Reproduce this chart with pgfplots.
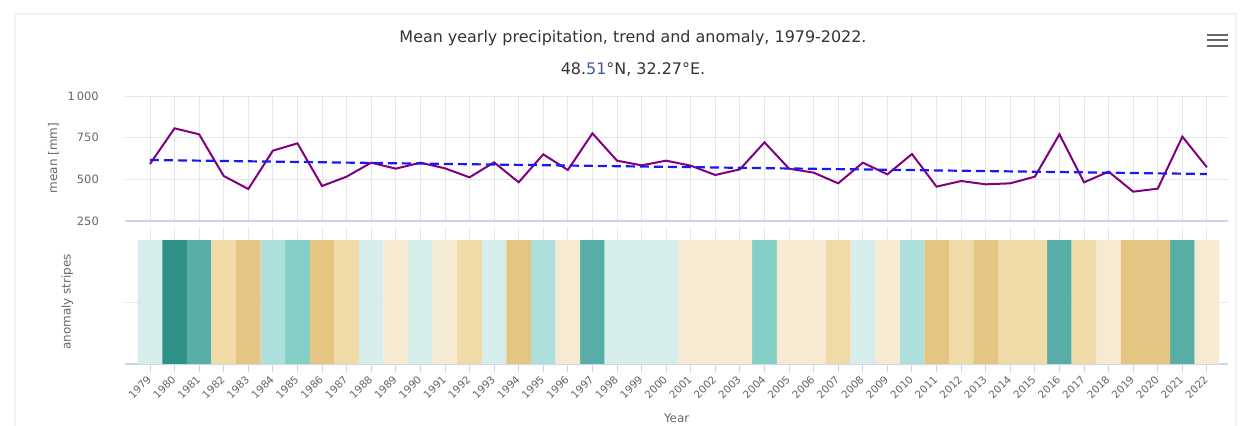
\documentclass[border=0pt]{standalone}
\usepackage{fontspec}
\setmainfont{DejaVu Sans}
\usepackage{pgfplots}
\usepackage{pgfplotstable}
\pgfplotsset{compat=1.18}
\definecolor{dteal}{HTML}{2E9187}
\definecolor{teal2}{HTML}{58AEA6}
\definecolor{lteal}{HTML}{84D0C6}
\definecolor{pteal}{HTML}{ADE0DC}
\definecolor{vpteal}{HTML}{D5EEEC}
\definecolor{pbeige}{HTML}{F6EAD3}
\definecolor{ltan}{HTML}{F0DBA8}
\definecolor{tan2}{HTML}{E4C582}
\definecolor{gridc}{HTML}{E6E6E6}
\definecolor{axisc}{HTML}{CCD6EB}
\definecolor{labc}{HTML}{666666}
\definecolor{titc}{HTML}{333333}
\definecolor{subblue}{HTML}{3D5A9C}
\definecolor{trendblue}{HTML}{1A1AF0}
\definecolor{linepurple}{HTML}{800080}

\pgfplotstableread{
year mean
1979 592
1980 806
1981 770
1982 520
1983 442
1984 672
1985 716
1986 460
1987 516
1988 600
1989 564
1990 600
1991 566
1992 512
1993 602
1994 482
1995 650
1996 556
1997 776
1998 612
1999 584
2000 612
2001 582
2002 526
2003 560
2004 722
2005 564
2006 540
2007 476
2008 600
2009 530
2010 652
2011 456
2012 490
2013 470
2014 476
2015 516
2016 770
2017 482
2018 546
2019 426
2020 444
2021 756
2022 572
}\precip

\begin{document}
\begin{tikzpicture}
\begin{scope}[x=1bp,y=1bp]
\path[use as bounding box] (0,0) rectangle (1242,421);
\draw[black!5, line width=2bp] (15,-5) -- (15,407) -- (1236,407) -- (1236,-5);
\node[font=\fontsize{16}{18}\selectfont, text=titc] at (633,383) {Mean yearly precipitation, trend and anomaly, 1979-2022.};
\node[font=\fontsize{16}{18}\selectfont, text=titc] at (633,351) {48.\textcolor{subblue}{51}°N, 32.27°E.};
\foreach \yy in {375,380.5,386} \draw[labc, line width=2bp] (1207,\yy) -- (1228,\yy);
\end{scope}

\begin{axis}[
  at={(125.4bp,200bp)}, anchor=south west,
  width=1102.5bp, height=125bp, scale only axis,
  xmin=1978, xmax=2022.854,
  ymin=250, ymax=1000,
  xtick={1979,...,2022}, xticklabels=\empty,
  ytick={250,500,750,1000}, yticklabels={250,500,750,1\,000},
  major tick length=0pt,
  xmajorgrids, ymajorgrids,
  grid style={draw=gridc, line width=0.8bp},
  axis x line*=bottom, axis y line*=left,
  x axis line style={draw=axisc, line width=1.2bp, -},
  y axis line style={draw=none},
  /pgf/number format/assume math mode=true,
  yticklabel style={font=\fontsize{11.5}{12}\selectfont, text=labc, anchor=east, inner sep=0pt, xshift=-26.4bp},
  ylabel={mean [mm]},
  every axis y label/.style={at={(rel axis cs:0,0.504)}, xshift=-72bp, rotate=90, anchor=center, font=\fontsize{12}{13}\selectfont, text=labc},
  clip=false,
]
\addplot[linepurple, line width=2bp, no marks] table[x=year, y=mean] {\precip};
\addplot[trendblue, line width=2.2bp, dash pattern=on 9bp off 5bp, no marks] coordinates {(1979,616) (2022,532)};
\end{axis}

\begin{axis}[
  at={(125.4bp,57bp)}, anchor=south west,
  width=1102.5bp, height=136bp, scale only axis,
  xmin=1978, xmax=2022.854,
  ymin=0, ymax=1.097,
  xtick={1979,...,2022},
  ytick={0.5}, yticklabels={},
  xmajorgrids, ymajorgrids,
  grid style={draw=gridc, line width=0.8bp},
  axis x line*=bottom, axis y line*=left,
  x axis line style={draw=axisc, line width=1.2bp, -},
  y axis line style={draw=none},
  xtick style={draw=axisc, line width=0.8bp},
  ytick style={draw=none},
  tick align=outside,
  major tick length=8bp,
  /pgf/number format/assume math mode=true,
  /pgf/number format/1000 sep={},
  xticklabel style={font=\fontsize{10.5}{12}\selectfont, text=labc, yshift=-5bp, rotate=45, anchor=east, inner sep=1bp},
  ylabel={anomaly stripes},
  every axis y label/.style={at={(rel axis cs:0,0.456)}, xshift=-58bp, rotate=90, anchor=center, font=\fontsize{12}{13}\selectfont, text=labc},
  xlabel={Year},
  every axis x label/.style={at={(rel axis cs:0.5,0)}, anchor=center, yshift=-54bp, font=\fontsize{12}{13}\selectfont, text=labc},
]
\addplot[ybar, bar width=1, bar shift=0pt, draw=none, fill=dteal] coordinates {(1980,1)};
\addplot[ybar, bar width=1, bar shift=0pt, draw=none, fill=teal2] coordinates {(1981,1) (1997,1) (2016,1) (2021,1)};
\addplot[ybar, bar width=1, bar shift=0pt, draw=none, fill=lteal] coordinates {(1985,1) (2004,1)};
\addplot[ybar, bar width=1, bar shift=0pt, draw=none, fill=pteal] coordinates {(1984,1) (1995,1) (2010,1)};
\addplot[ybar, bar width=1, bar shift=0pt, draw=none, fill=vpteal] coordinates {(1979,1) (1988,1) (1990,1) (1993,1) (1998,1) (1999,1) (2000,1) (2008,1)};
\addplot[ybar, bar width=1, bar shift=0pt, draw=none, fill=pbeige] coordinates {(1989,1) (1991,1) (1996,1) (2001,1) (2002,1) (2003,1) (2005,1) (2006,1) (2009,1) (2018,1) (2022,1)};
\addplot[ybar, bar width=1, bar shift=0pt, draw=none, fill=ltan] coordinates {(1982,1) (1987,1) (1992,1) (2007,1) (2012,1) (2014,1) (2015,1) (2017,1)};
\addplot[ybar, bar width=1, bar shift=0pt, draw=none, fill=tan2] coordinates {(1983,1) (1986,1) (1994,1) (2011,1) (2013,1) (2019,1) (2020,1)};
\end{axis}
\end{tikzpicture}
\end{document}
